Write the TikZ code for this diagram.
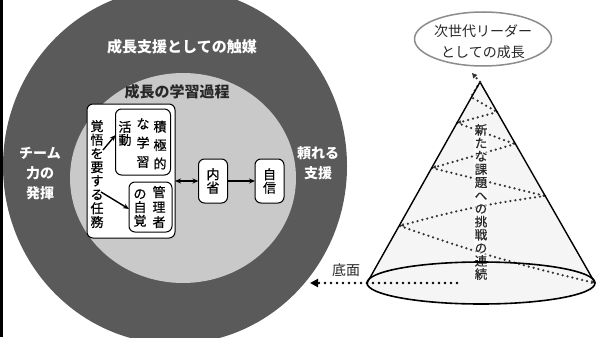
\documentclass[tikz,border=0pt]{standalone}
\usepackage{fontspec}
\newfontfamily\jp{Noto Sans CJK JP}
\newfontfamily\jpm[FakeBold=0.6]{Noto Sans CJK JP}
\usetikzlibrary{arrows.meta,shapes.geometric}
\definecolor{outerg}{RGB}{90,90,90}
\definecolor{innerg}{RGB}{201,201,201}
\definecolor{conefill}{RGB}{245,245,245}
\definecolor{txt}{RGB}{40,40,40}
\begin{document}
\begin{tikzpicture}[x=1pt,y=-1pt,
  every node/.style={inner sep=0pt, outer sep=0pt},
  wlab/.style={text=white, align=center, font={\jp\bfseries\fontsize{14}{20}\selectfont}},
  dlab/.style={text=txt, align=center, font={\jp\bfseries\fontsize{15}{18}\selectfont}},
  rbox/.style={draw=black, fill=white, line width=1pt, rounded corners=6pt},
  vcol/.style={text=black, align=center, font={\jpm\fontsize{13}{#1}\selectfont}},
  arr/.style={line width=1.4pt, -{Stealth[length=6pt,width=5pt]}},
  darr/.style={line width=1.4pt, {Stealth[length=6pt,width=5pt]}-{Stealth[length=6pt,width=5pt]}},
  dots/.style={line width=2.5pt, dash pattern=on 0pt off 5pt, line cap=round, draw=black!80},
  bigdots/.style={line width=2.8pt, dash pattern=on 0pt off 6pt, line cap=round},
  tip/.style={-{Latex[length=4pt,width=4pt]}}
]
\useasboundingbox (0,0) rectangle (596,337);
\fill[white] (0,0) rectangle (596,337);
\begin{scope}
\clip (0,0) rectangle (596,337);
\fill[outerg] (175,166) ellipse [x radius=172pt, y radius=178pt];
\end{scope}
\fill[black] (0,0) rectangle (2.5,337);
\fill[innerg] (183,178) ellipse [x radius=113pt, y radius=105pt];

% labels on rings
\node[wlab, font={\jp\bfseries\fontsize{15}{18}\selectfont}] (catalyst) at (182,47) {成長支援としての触媒};
\node[dlab] (process) at (177,92) {成長の学習過程};
\node[wlab] (team) at (40,174) {チーム\\力の\\発揮};
\node[wlab] (support) at (318,163) {頼れる\\支援};

% boxes
\node[rbox, minimum width=88pt, minimum height=134pt] (task) at (131,171) {};
\node[vcol=13.7] (tasktxt) at (97,174) {覚\\悟\\を\\要\\す\\る\\任\\務};
\node[rbox, minimum width=55pt, minimum height=66pt] (act) at (143,142) {};
\node[vcol=18.5] (act1) at (160,145) {積\\極\\的};
\node[vcol=19] (act2) at (143,143) {な\\学\\習};
\node[vcol=13] (act3) at (125,133.5) {活\\動};
\node[rbox, minimum width=43pt, minimum height=50pt] (self) at (150.5,207) {};
\node[vcol=15] (self1) at (159,207) {管\\理\\者};
\node[vcol=13.5] (self2) at (140,208) {の\\自\\覚};
\node[rbox, minimum width=29pt, minimum height=44pt] (naisei) at (213,181) {};
\node[vcol=13.5] (naiseitxt) at (213,181) {内\\省};
\node[rbox, minimum width=29pt, minimum height=44pt] (jishin) at (269.5,181) {};
\node[vcol=13.5] (jishintxt) at (269.5,181) {自\\信};

\coordinate (a1s) at (103,150);
\coordinate (a2s) at (101,192);
\draw[arr] (a1s) -- (act.west |- 0,135);
\draw[arr] (a2s) -- (self.west |- 0,209);
\draw[darr] (task.east |- naisei.west) -- (naisei.west);
\draw[arr] (naisei.east) -- (jishin.west);

% cone
\coordinate (apex) at (480,82);
\coordinate (bl) at (367,283);
\coordinate (br) at (595,283);
\coordinate (bc) at (481,283);
\fill[conefill] (apex) -- (bl) -- (br) -- cycle;
\fill[conefill] (bc) ellipse [x radius=114pt, y radius=21pt];

% helix
\coordinate (L0) at (471,97);
\coordinate (R0) at (497,112);
\coordinate (L1) at (457,123);
\coordinate (R1) at (515,144);
\coordinate (L2) at (432,168);
\coordinate (R2) at (545,196);
\coordinate (L3) at (400,226);
\draw[dots] (apex) -- (L0) -- (R0);
\draw[dots, tip] (R0) -- (L1);
\draw[dots] (L1) -- (R1);
\draw[dots, tip] (R1) -- (L2);
\draw[dots] (L2) -- (R2);
\draw[dots, tip] (R2) to[bend right=4] (L3);
\draw[dots, tip] (L3) to[bend right=3] (br);

\node[text=txt, fill=white, fill opacity=0.55, text opacity=1, align=center, inner xsep=1pt,
  font={\jpm\fontsize{12.5}{13.1}\selectfont}] (chal) at (481,202) {新\\た\\な\\課\\題\\へ\\の\\挑\\戦\\の\\連\\続};

\draw[line width=1.4pt] (bl) -- (apex) -- (br);
\draw[line width=1.6pt] (bc) ellipse [x radius=114pt, y radius=21pt];

% goal oval
\node[draw=black!45, line width=1.5pt, fill=white, ellipse, minimum width=137pt, minimum height=54pt] (goal) at (483,39) {};
\node[text=txt, align=center, font={\jp\fontsize{14}{21}\selectfont}] (goaltxt) at (483,42) {次世代リーダー\\としての成長};
\coordinate (goaltip) at (472,73);
\draw[dots, -{Triangle[length=5pt,width=5pt]}] (apex) -- (goaltip);

% base
\coordinate (basetip) at (310,283);
\coordinate (baseend) at (457,283);
\draw[bigdots, -{Triangle[length=8pt,width=8pt]}] (bl) -- (basetip);
\draw[bigdots] (bl) -- (baseend);
\node[text=txt, font={\jp\fontsize{14}{16}\selectfont}] (base) at (346,270) {底面};
\end{tikzpicture}
\end{document}
